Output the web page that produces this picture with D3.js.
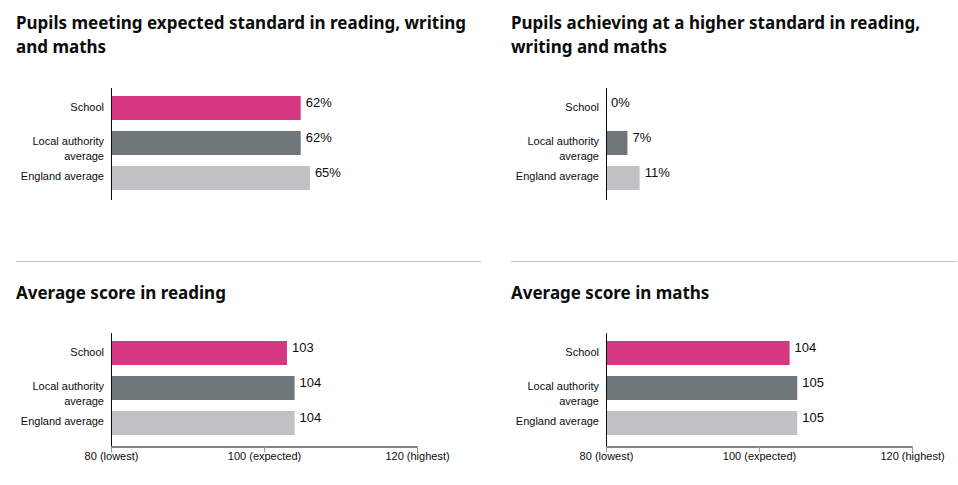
<!DOCTYPE html>
<html>
<head>
<meta charset="utf-8">
<script src="https://cdn.jsdelivr.net/npm/d3@7"></script>
<style>
  body { margin: 0; background: #fff; }
  svg { display: block; }
  .title { font-family: "Noto Sans", sans-serif; font-weight: 700; font-size: 17px; fill: #0b0c0c; }
  .cat { font-family: "Liberation Sans", Arial, sans-serif; font-size: 11px; fill: #0b0c0c; }
  .val { font-family: "Liberation Sans", Arial, sans-serif; font-size: 13px; fill: #0b0c0c; }
  .tick text { font-family: "Liberation Sans", Arial, sans-serif; font-size: 11px; fill: #0b0c0c; }
</style>
</head>
<body>
<div id="chart"></div>
<script>
// chart data
const categories = ["School", "Local authority average", "England average"];
const colours = ["#d53880", "#6f777b", "#bfc1c3"];

const expectedPct = [62, 62, 65];
const higherPct = [0, 7, 11];
const readingScore = [103, 104, 104];
const mathsScore = [104, 105, 105];

const scoreTicks = [80, 100, 120];
const scoreTickLabels = ["80 (lowest)", "100 (expected)", "120 (highest)"];

const width = 958, height = 485;

const svg = d3.select("#chart").append("svg")
  .attr("width", width)
  .attr("height", height);

// 4 panels, 2 columns x 2 rows
const panels = [
  {title: "Pupils meeting expected standard in reading, writing and maths", values: expectedPct, pct: true, col: 0, row: 0, wrap: 465},
  {title: "Pupils achieving at a higher standard in reading, writing and maths", values: higherPct, pct: true, col: 1, row: 0, wrap: 446},
  {title: "Average score in reading", values: readingScore, pct: false, col: 0, row: 1, wrap: 465},
  {title: "Average score in maths", values: mathsScore, pct: false, col: 1, row: 1, wrap: 446}
];

// divider lines between rows
svg.append("line").attr("x1", 16).attr("x2", 481).attr("y1", 261.5).attr("y2", 261.5)
  .attr("stroke", "#bfc1c3").attr("stroke-width", 1);
svg.append("line").attr("x1", 511).attr("x2", 957).attr("y1", 261.5).attr("y2", 261.5)
  .attr("stroke", "#bfc1c3").attr("stroke-width", 1);

function wrapText(textSel, str, maxW, lineH){
  const words = str.split(" ");
  let line = [];
  let tspan = textSel.append("tspan").attr("x", textSel.attr("x")).attr("dy", 0);
  let n = 0;
  words.forEach(w=>{
    line.push(w);
    tspan.text(line.join(" "));
    if(tspan.node().getComputedTextLength() > maxW && line.length > 1){
      line.pop();
      tspan.text(line.join(" "));
      line = [w];
      n++;
      tspan = textSel.append("tspan").attr("x", textSel.attr("x")).attr("dy", lineH).text(w);
    }
  });
  return n + 1;
}

panels.forEach(p=>{
  const ox = p.col === 0 ? 0 : 495;
  const oy = p.row === 0 ? 0 : 245;
  const g = svg.append("g").attr("transform", `translate(${ox},${oy})`);

  // title sits a bit lower in the bottom row (below the divider)
  const t = g.append("text").attr("class", "title").attr("x", 16).attr("y", p.row === 0 ? 29 : 54);
  wrapText(t, p.title, p.wrap, 24);

  const x = p.pct
    ? d3.scaleLinear().domain([0, 100]).range([111, 417])
    : d3.scaleLinear().domain([80, 120]).range([111, 417]);

  const y = d3.scaleBand().domain(categories).range([85.5, 200.5])
    .paddingInner(0.314).paddingOuter(0.3);

  const data = categories.map((c, i)=>({cat: c, value: p.values[i], colour: colours[i]}));

  g.selectAll("rect.bar")
    .data(data)
    .join("rect")
    .attr("class", "bar")
    .attr("x", x.range()[0])
    .attr("y", d=>y(d.cat))
    .attr("width", d=>x(d.value) - x.range()[0])
    .attr("height", y.bandwidth())
    .attr("fill", d=>d.colour);

  // vertical axis line
  g.append("line")
    .attr("x1", 111.5).attr("x2", 111.5)
    .attr("y1", 88).attr("y2", p.pct ? 200 : 201.5)
    .attr("stroke", "#0b0c0c").attr("stroke-width", 1);

  // category labels
  g.selectAll("text.cat")
    .data(data)
    .join("text")
    .attr("class", "cat")
    .attr("x", 104)
    .attr("text-anchor", "end")
    .each(function(d){
      const sel = d3.select(this);
      const n = wrapText(sel, d.cat, 92, 15);
      const yc = y(d.cat) + y.bandwidth() / 2;
      sel.attr("y", n > 1 ? yc + 2 : yc + 2.5);
    });

  // value labels
  g.selectAll("text.val")
    .data(data)
    .join("text")
    .attr("class", "val")
    .attr("x", d=>x(d.value) + 5)
    .attr("y", d=>y(d.cat) + 11.5)
    .text(d=>p.pct ? d.value + "%" : d.value);

  if(!p.pct){
    const axis = d3.axisBottom(x)
      .tickValues(scoreTicks)
      .tickFormat((d, i)=>scoreTickLabels[i])
      .tickSize(6)
      .tickSizeOuter(0);
    const ax = g.append("g")
      .attr("transform", "translate(0,201.5)")
      .call(axis);
    ax.select(".domain").attr("stroke", "#0b0c0c");
    ax.selectAll(".tick line").attr("stroke", "#999");
    ax.selectAll(".tick text").attr("dy", "0.45em").attr("y", 9);
  }
});
</script>
</body>
</html>
